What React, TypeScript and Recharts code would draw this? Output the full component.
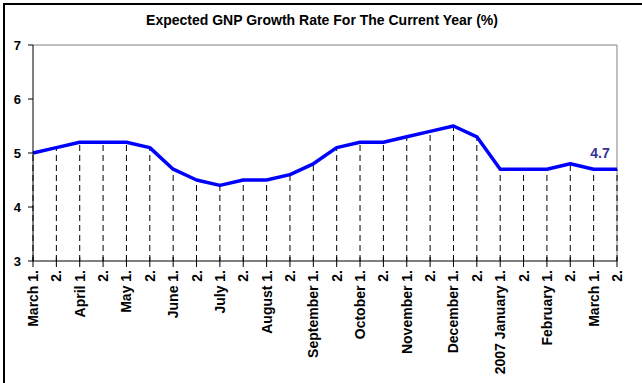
import React from "react";
import { LineChart, Line, XAxis, YAxis, ReferenceLine, LabelList } from "recharts";

const labels = [
  "March 1.", "2.", "April 1.", "2.", "May 1.", "2.", "June 1.", "2.", "July 1.", "2.",
  "August 1.", "2.", "September 1.", "2.", "October 1.", "2.", "November 1.", "2.",
  "December 1.", "2.", "2007 January 1.", "2.", "February 1.", "2.", "March 1.", "2.",
];
const values = [
  5.0, 5.1, 5.2, 5.2, 5.2, 5.1, 4.7, 4.5, 4.4, 4.5, 4.5, 4.6, 4.8,
  5.1, 5.2, 5.2, 5.3, 5.4, 5.5, 5.3, 4.7, 4.7, 4.7, 4.8, 4.7, 4.7,
];
const yTicks = [3, 4, 5, 6, 7];
const title = "Expected GNP Growth Rate For The Current Year (%)";

const data = labels.map((label, i) => ({ key: String(i), label, value: values[i] }));
const lastKey = String(labels.length - 1);
const FONT = "Arial, 'Liberation Sans', sans-serif";

const XTick = (props: any) => {
  const { x, y, payload } = props;
  const label = labels[Number(payload.value)];
  return (
    <g>
      <line x1={x} x2={x} y1={y - 10} y2={y} stroke="#000" strokeWidth={1} />
      <text
        x={0}
        y={0}
        transform={`translate(${x},${y + 3}) rotate(-90)`}
        textAnchor="end"
        dominantBaseline="central"
        fontFamily={FONT}
        fontWeight="bold"
        fontSize={14}
        fill="#000"
      >
        {label}
      </text>
    </g>
  );
};

const LastLabel = (p: any) => {
  if (p.index !== values.length - 1) return null;
  return (
    <text
      x={p.x - 17}
      y={p.y - 11}
      textAnchor="middle"
      fontFamily={FONT}
      fontWeight="bold"
      fontSize={14}
      fill="#333399"
    >
      {String(p.value)}
    </text>
  );
};

export default function App() {
  return (
    <div style={{ position: "absolute", left: 0, top: 0, width: 642, height: 383, background: "#fff", overflow: "hidden" }}>
      <div
        style={{
          position: "absolute",
          left: 3,
          top: 3,
          width: 700,
          height: 420,
          borderLeft: "2px solid #000",
          borderTop: "2px solid #000",
        }}
      />
      <div style={{ position: "absolute", left: 0, top: 0 }}>
        <LineChart width={642} height={383} data={data} margin={{ top: 45, right: 25, left: 0, bottom: 0 }}>
          <text x={322} y={25} textAnchor="middle" fontFamily={FONT} fontWeight="bold" fontSize={14} fill="#000">
            {title}
          </text>
          <XAxis
            dataKey="key"
            type="category"
            interval={0}
            height={122}
            tickSize={6}
            tickMargin={0}
            tickLine={false}
            axisLine={{ stroke: "#000", strokeWidth: 1 }}
            tick={<XTick />}
          />
          <YAxis
            domain={[3, 7]}
            ticks={yTicks}
            width={33}
            tickSize={5}
            tickMargin={7}
            tickLine={{ stroke: "#000" }}
            axisLine={{ stroke: "#000", strokeWidth: 1 }}
            tick={{ fontFamily: FONT, fontWeight: "bold", fontSize: 13, fill: "#000" }}
          />
          <ReferenceLine y={7} stroke="#808080" strokeWidth={1} />
          <ReferenceLine x={lastKey} stroke="#808080" strokeWidth={1} />
          {data.map((d) => (
            <ReferenceLine
              key={d.key}
              segment={[
                { x: d.key, y: 3 },
                { x: d.key, y: d.value },
              ]}
              stroke="#000"
              strokeWidth={1}
              strokeDasharray="6 4"
            />
          ))}
          <Line
            type="linear"
            dataKey="value"
            stroke="#0000FF"
            strokeWidth={3.5}
            strokeLinejoin="round"
            dot={false}
            activeDot={false}
            isAnimationActive={false}
          >
            <LabelList dataKey="value" content={<LastLabel />} />
          </Line>
        </LineChart>
      </div>
    </div>
  );
}
